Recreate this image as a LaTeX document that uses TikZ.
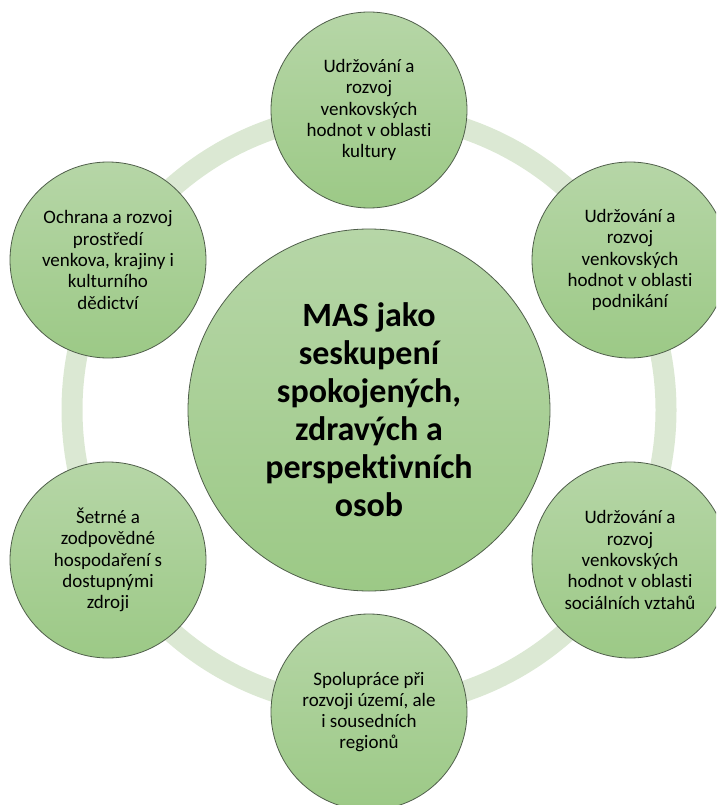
\documentclass[tikz,border=0pt]{standalone}
\usepackage{fontspec}
\setmainfont{Carlito}[Ligatures={NoCommon}]
\definecolor{circtop}{RGB}{182,214,167}
\definecolor{circbot}{RGB}{156,201,134}
\definecolor{bordc}{RGB}{80,95,75}
\definecolor{ringc}{RGB}{219,232,211}
\begin{document}
\begin{tikzpicture}[x=1pt,y=-1pt,
  bub/.style={circle, draw=bordc, line width=0.8pt, top color=circtop, bottom color=circbot,
    minimum size=196pt, inner sep=0pt, align=center, text=black,
    font=\fontsize{19}{21.3}\selectfont},
  hub/.style={bub, minimum size=362pt, font=\bfseries\fontsize{34}{38}\selectfont},
  ring/.style={draw=ringc, line width=21pt}]
\useasboundingbox (0,0) rectangle (716,805);
\clip (0,0) rectangle (716,805);
\coordinate (c) at (369,410);
\draw[ring] (c) circle[radius=297pt];
\node[hub] (hub) at (c) {MAS jako\\seskupení\\spokojených,\\zdravých a\\perspektivních\\osob};
\node[bub] (top) at (369,110) {Udržování a\\rozvoj\\venkovských\\hodnot v oblasti\\kultury};
\node[bub] (rtop) at (630,260) {Udržování a\\rozvoj\\venkovských\\hodnot v oblasti\\podnikání};
\node[bub] (rbot) at (630,560) {Udržování a\\rozvoj\\venkovských\\hodnot v oblasti\\sociálních vztahů};
\node[bub] (bot) at (369,712) {Spolupráce při\\rozvoji území, ale\\i sousedních\\regionů};
\node[bub] (lbot) at (108,560) {Šetrné a\\zodpovědné\\hospodaření s\\dostupnými\\zdroji};
\node[bub] (ltop) at (108,260) {Ochrana a rozvoj\\prostředí\\venkova, krajiny i\\kulturního\\dědictví};
\end{tikzpicture}
\end{document}
